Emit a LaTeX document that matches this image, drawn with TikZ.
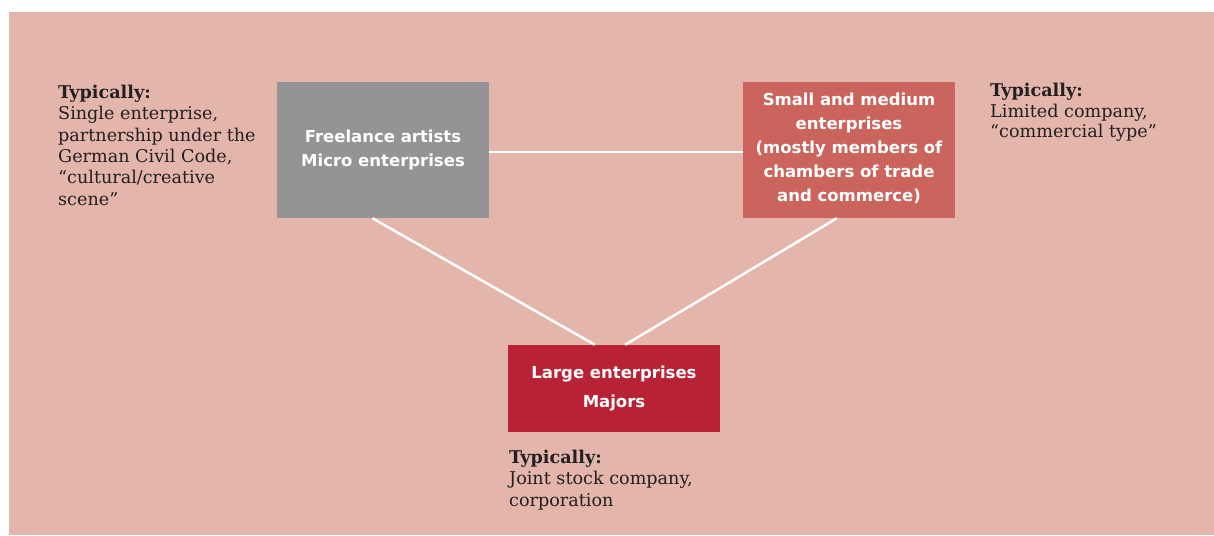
\documentclass[tikz,border=0pt]{standalone}
\usepackage{fontspec}
\setmainfont{DejaVu Serif}
\newfontfamily\boxfont{DejaVu Sans}
\usetikzlibrary{calc}
\definecolor{bgpink}{HTML}{E4B5AB}
\definecolor{boxgray}{HTML}{949497}
\definecolor{boxsalmon}{HTML}{CB645C}
\definecolor{boxred}{HTML}{B82234}
\definecolor{labeltext}{HTML}{222020}
\tikzset{
  x=1pt, y=-1pt,
  orgbox/.style={minimum width=212pt, inner sep=0pt, text=white, align=center,
    font=\boxfont\bfseries\fontsize{16.5}{24}\selectfont},
  typlabel/.style={anchor=north west, inner sep=0pt, align=left, text=labeltext,
    font=\fontsize{17.6}{21.3}\selectfont},
  link/.style={draw=white, line width=2.5pt}
}
\begin{document}
\begin{tikzpicture}
\fill[white] (0,0) rectangle (1214,535);
\fill[bgpink] (9,12) rectangle (1214,535);
\useasboundingbox (0,0) rectangle (1214,535);

\node[orgbox, fill=boxgray, minimum height=136pt] (free) at (383,150)
  {Freelance artists\\Micro enterprises\\[-20pt]\mbox{}};
\node[orgbox, fill=boxsalmon, minimum height=136pt] (sme) at (849,150)
  {Small and medium\\enterprises\\(mostly members of\\chambers of trade\\and commerce)\\[-18pt]\mbox{}};
\node[orgbox, fill=boxred, minimum height=87pt,
  font=\boxfont\bfseries\fontsize{16.5}{29}\selectfont] (large) at (614,388.5)
  {Large enterprises\\Majors};

\draw[link] ([yshift=-2pt]free.east) -- ([yshift=-2pt]sme.west);
\draw[link] ($(free.south west)!0.45!(free.south east)$) -- ($(large.north west)!0.41!(large.north east)$);
\draw[link] ($(sme.south west)!0.443!(sme.south east)$) -- ($(large.north west)!0.552!(large.north east)$);

\node[typlabel] (lfree) at (58,85)
  {\textbf{Typically:}\\Single enterprise,\\partnership under the\\German Civil Code,\\“cultural/creative\\scene”};
\node[typlabel, font=\fontsize{17.6}{20.5}\selectfont] (lsme) at (990,83)
  {\textbf{Typically:}\\Limited company,\\“commercial type”};
\node[typlabel] (llarge) at (509,450)
  {\textbf{Typically:}\\Joint stock company,\\corporation};
\end{tikzpicture}
\end{document}
